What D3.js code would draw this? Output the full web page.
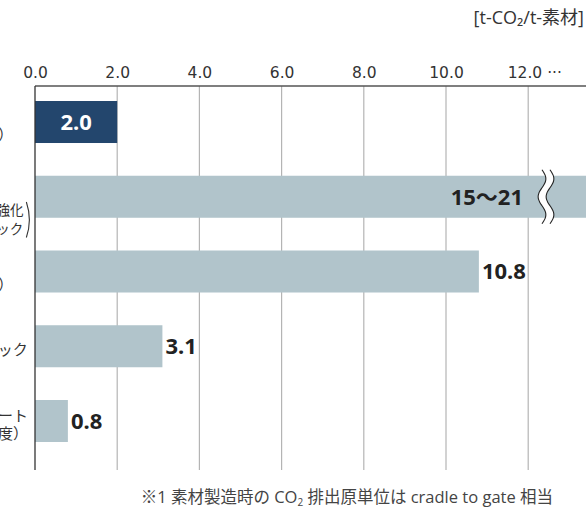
<!DOCTYPE html>
<html>
<head>
<meta charset="utf-8">
<script src="https://cdn.jsdelivr.net/npm/d3@7"></script>
<style>
  body { margin: 0; background: #fff; overflow: hidden; }
  svg { display: block; font-family: "Open Sans", "Noto Sans CJK JP", sans-serif; }
</style>
</head>
<body>
<div id="vis"></div>
<script>
// materials (the left labels are cut off by the frame in the original)
const categories = [
  ["CNF", "（範囲）"],
  ["CF系", "素材", "（炭素繊維強化", "プラスチック）"],
  ["Al", "（一次）"],
  ["プラスチック"],
  ["コンクリート", "（普通強度）"]
];
const values = [2.0, 21, 10.8, 3.1, 0.8];
const valueLabels = ["2.0", "15～21", "10.8", "3.1", "0.8"];
const tickValues = [0, 2, 4, 6, 8, 10, 12];
const tickLabels = ["0.0", "2.0", "4.0", "6.0", "8.0", "10.0", "12.0\u00a0\u00b7\u00b7\u00b7"];
const unitLabel = "[t-CO₂/t-素材]";

const width = 586, height = 511;
const topY = 86, bottomY = 470;
const labelX = -17;

const svg = d3.select('#vis').append('svg')
  .attr("width", width)
  .attr("height", height);

const x = d3.scaleLinear().domain([0, 13.55]).range([35, 35 + 13.55 * 41.1]);
const y = d3.scaleBand().domain(d3.range(categories.length))
  .range([101, 442]).paddingInner(0.438).paddingOuter(0);

// gridlines
svg.append("g").selectAll("line")
  .data(tickValues.slice(1))
  .enter().append("line")
  .attr("x1", d => x(d)).attr("x2", d => x(d))
  .attr("y1", topY).attr("y2", bottomY)
  .attr("stroke", "#b4b4b4").attr("stroke-width", 1.2);

// tick labels via axis
const axis = d3.axisTop(x).tickValues(tickValues)
  .tickFormat((d, i) => tickLabels[i]).tickSize(0).tickPadding(8);
const ga = svg.append("g").attr("transform", `translate(0,${topY})`).call(axis);
ga.select(".domain").remove();
ga.selectAll("text").attr("font-size", 15.5).attr("fill", "#333")
  .attr("font-family", "'DejaVu Sans', sans-serif")
  .attr("text-anchor", (d, i) => i === tickValues.length - 1 ? "start" : "middle")
  .attr("dx", (d, i) => i === tickValues.length - 1 ? -21 : 0);

// top line
svg.append("line").attr("x1", x(0)).attr("x2", width).attr("y1", topY).attr("y2", topY)
  .attr("stroke", "#555").attr("stroke-width", 1.3);

// unit
svg.append("text").attr("x", 584).attr("y", 24).attr("text-anchor", "end")
  .attr("font-size", 18).attr("fill", "#333").text(unitLabel);

// bars
svg.append("g").selectAll("rect")
  .data(values)
  .enter().append("rect")
  .attr("x", x(0))
  .attr("y", (d, i) => y(i))
  .attr("width", d => Math.min(x(d), x.range()[1]) - x(0))
  .attr("height", y.bandwidth())
  .attr("fill", (d, i) => i === 0 ? "#23466d" : "#b1c4cb");

// break mark on the long bar
const bi = values.findIndex(v => v > x.domain()[1]);
if (bi >= 0) {
  const bx = 542, y0 = y(bi) - 6, y1 = y(bi) + y.bandwidth() + 6;
  const wave = (off) => d3.range(0, 1.0001, 0.05).map(t => [bx + off + 4 * Math.sin(t * Math.PI * 3), y0 + t * (y1 - y0)]);
  const left = wave(0), right = wave(8).reverse();
  svg.append("path")
    .attr("d", d3.line()(left.concat(right)) + "Z")
    .attr("fill", "#fff").attr("stroke", "none");
  [left, right].forEach(pts => svg.append("path")
    .attr("d", d3.line().curve(d3.curveBasis)(pts))
    .attr("fill", "none").attr("stroke", "#222").attr("stroke-width", 1.1));
}

// left axis line
svg.append("line").attr("x1", x(0)).attr("x2", x(0)).attr("y1", topY).attr("y2", bottomY)
  .attr("stroke", "#333").attr("stroke-width", 1.3);

// value labels
svg.append("g").selectAll("text")
  .data(values)
  .enter().append("text")
  .attr("x", (d, i) => i === 0 ? (x(0) + x(d)) / 2 : (i === bi ? 523 : x(d) + 3))
  .attr("y", (d, i) => y(i) + y.bandwidth() / 2)
  .attr("dy", "0.36em")
  .attr("text-anchor", (d, i) => i === 0 ? "middle" : (i === bi ? "end" : "start"))
  .attr("font-family", "'Noto Sans', 'Noto Sans CJK JP', sans-serif")
  .attr("font-size", 22).attr("font-weight", "bold")
  .attr("fill", (d, i) => i === 0 ? "#fff" : "#222")
  .text((d, i) => valueLabels[i]);

// category labels (centred in a column that lies mostly outside the frame)
const lineH = 18.5;
categories.forEach((lines, i) => {
  const cy = y(i) + y.bandwidth() / 2;
  const g = svg.append("g").attr("fill", "#333");
  lines.forEach((s, k) => {
    const ly = cy + (k - (lines.length - 1) / 2) * lineH + 9;
    // two lines wrapped in one tall bracket pair
    const open = s.startsWith("（") && !s.endsWith("）") && lines[k + 1] && lines[k + 1].endsWith("）");
    const close = s.endsWith("）") && !s.startsWith("（") && k > 0 && lines[k - 1].startsWith("（") && !lines[k - 1].endsWith("）");
    const txt = open ? s.slice(1) : close ? s.slice(0, -1) : s;
    const t = g.append("text").attr("x", labelX).attr("y", ly)
      .attr("text-anchor", "middle")
      .attr("font-size", open || close ? 13.5 : 15)
      .text(txt);
    if (close) {
      const w = t.node().getComputedTextLength();
      const ya = ly - lineH - 13, yb = ly + 4;
      const xr = labelX + w / 2 + 3, xl = labelX - w / 2 - 3;
      g.append("path").attr("d", `M${xr},${ya} Q${xr + 6},${(ya + yb) / 2} ${xr},${yb}`)
        .attr("fill", "none").attr("stroke", "#333").attr("stroke-width", 1.1);
      g.append("path").attr("d", `M${xl},${ya} Q${xl - 6},${(ya + yb) / 2} ${xl},${yb}`)
        .attr("fill", "none").attr("stroke", "#333").attr("stroke-width", 1.1);
    }
  });
});

// footnote
svg.append("text").attr("x", 553).attr("y", 503).attr("text-anchor", "end")
  .attr("font-size", 16.5).attr("fill", "#444")
  .html('※1 素材製造時の CO<tspan font-size="10" dy="3">2</tspan><tspan dy="-3"> 排出原単位は cradle to gate 相当</tspan>');
</script>
</body>
</html>
